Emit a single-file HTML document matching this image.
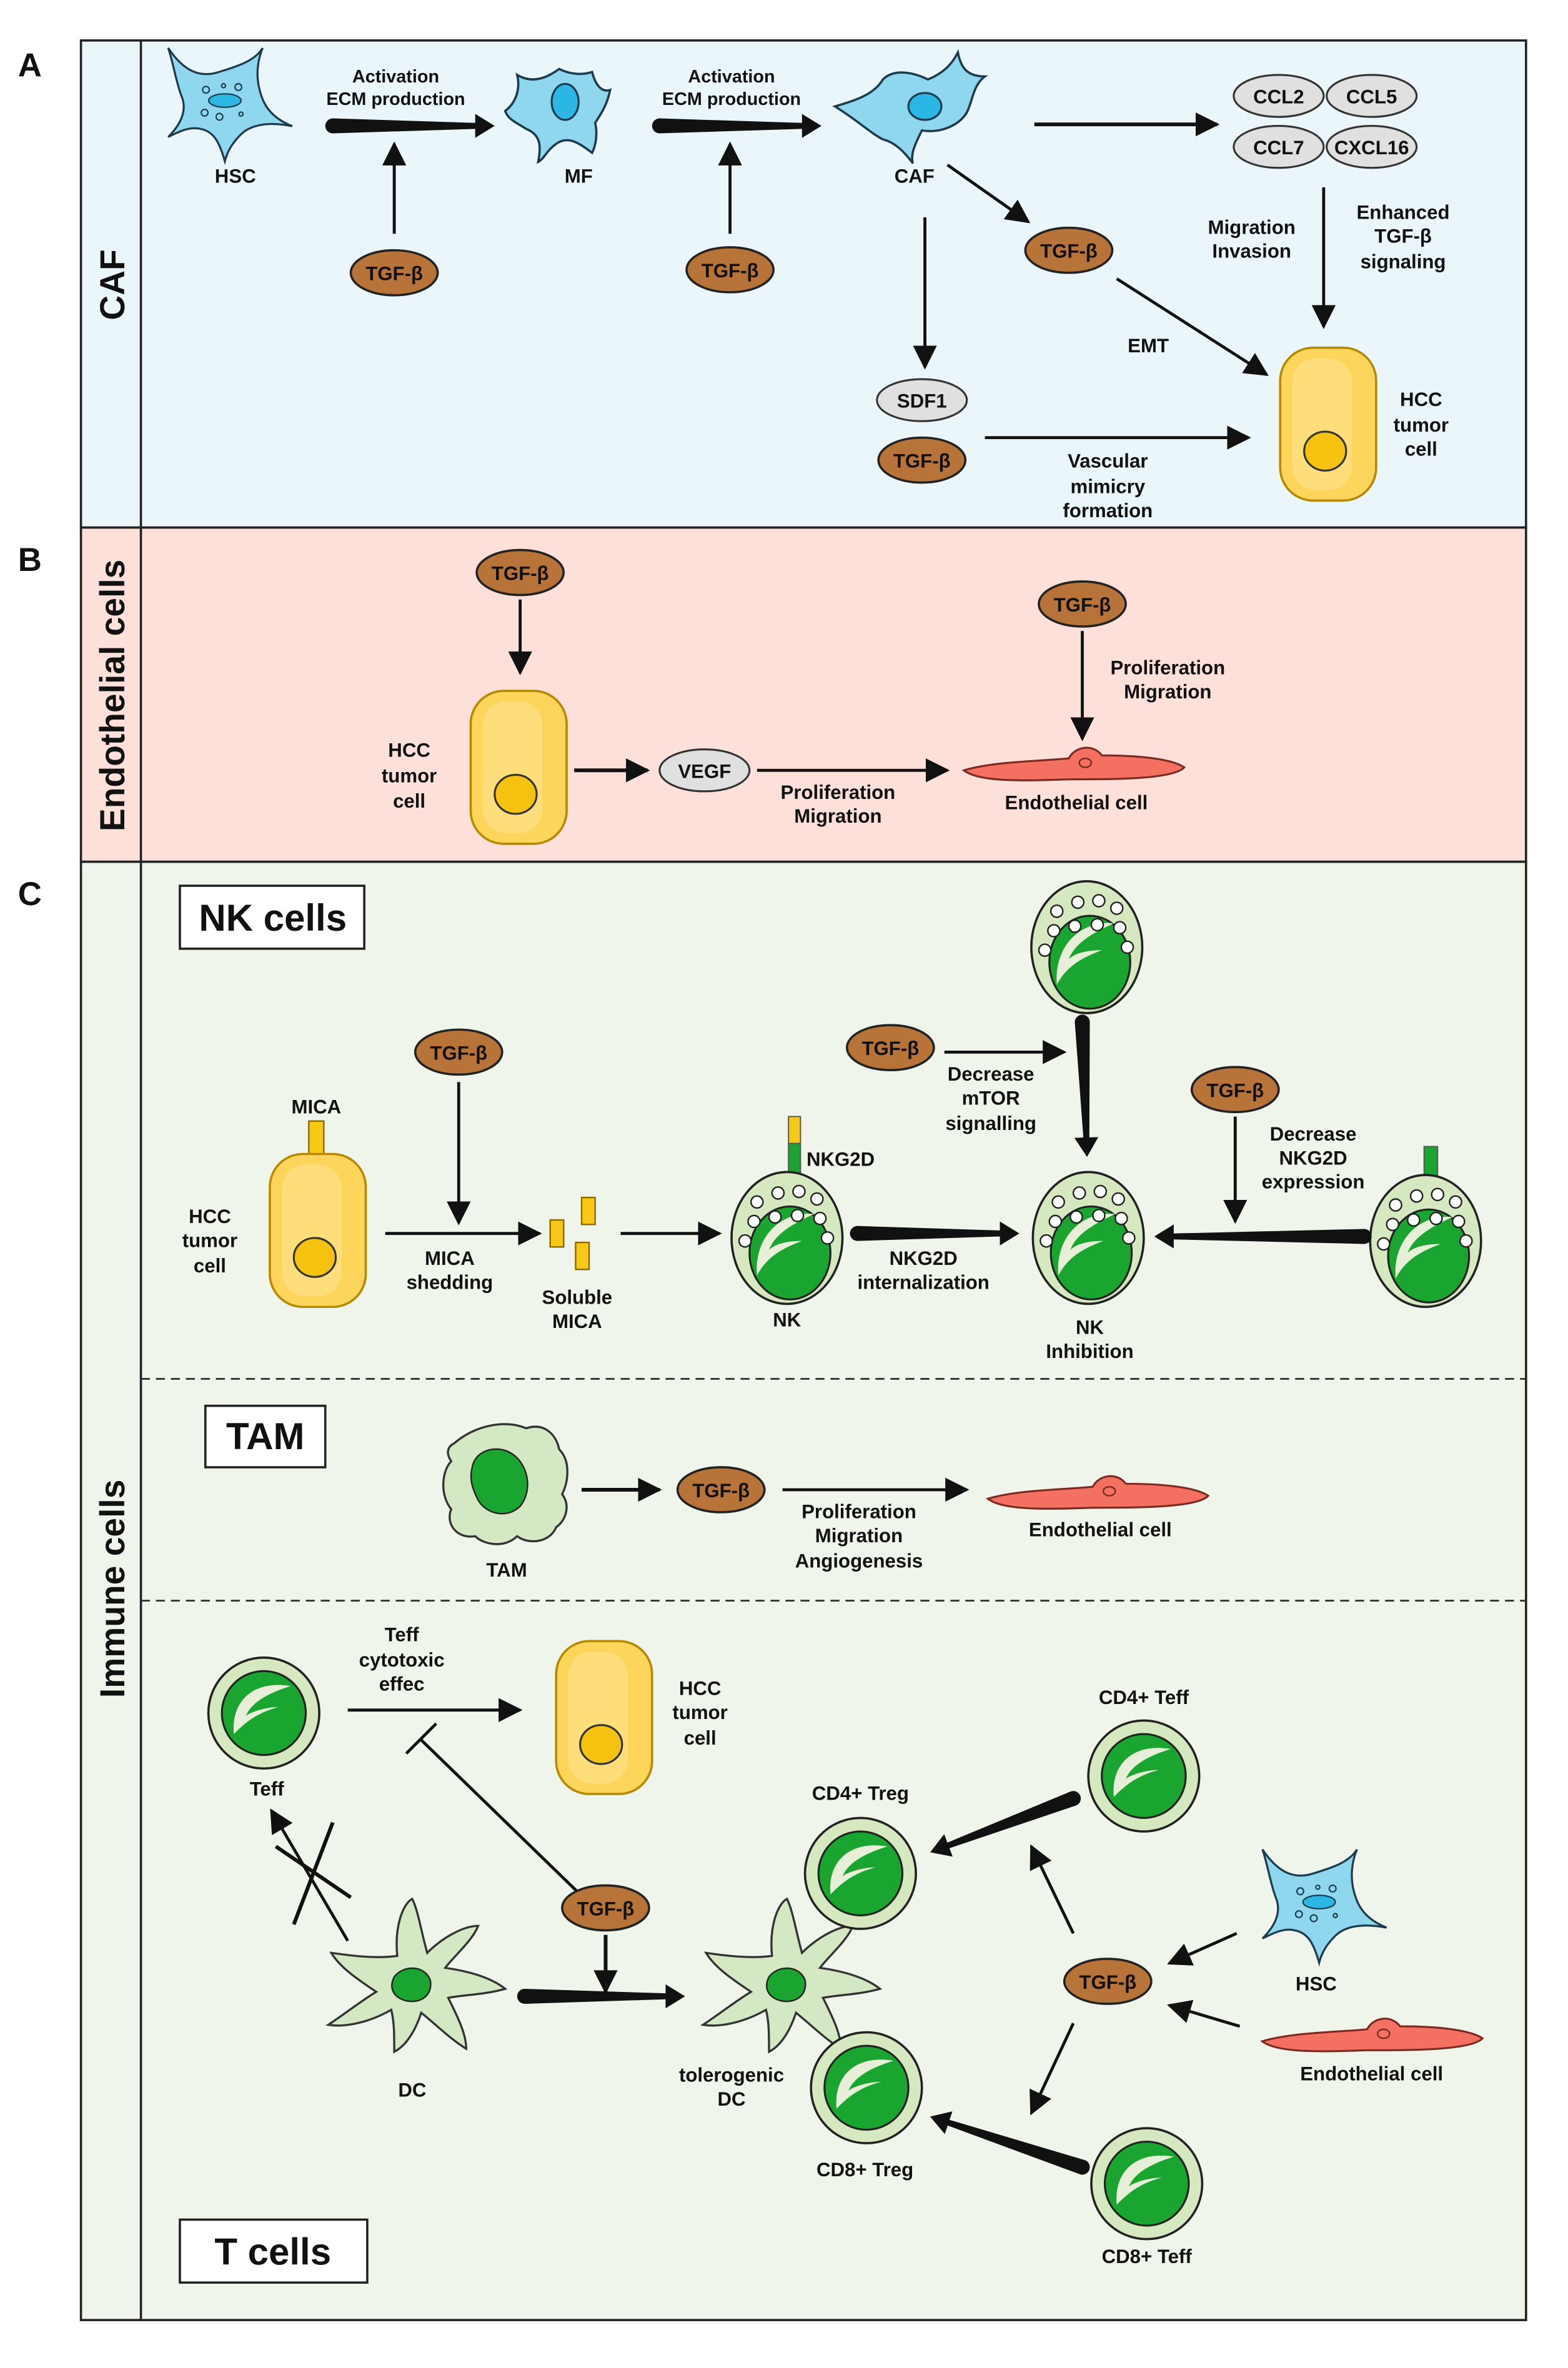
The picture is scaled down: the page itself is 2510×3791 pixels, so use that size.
<!DOCTYPE html>
<html><head><meta charset="utf-8"><style>
html,body{margin:0;padding:0;background:#fff}
svg{display:block}
text{font-family:"Liberation Sans",Arial,sans-serif;font-weight:bold;fill:#111}
</style></head><body>
<svg width="2510" height="3791" viewBox="0 0 1046 1580" preserveAspectRatio="none" xmlns="http://www.w3.org/2000/svg">
<defs>
<marker id="a" viewBox="0 0 10 10" refX="9" refY="5" markerWidth="16" markerHeight="16" markerUnits="userSpaceOnUse" orient="auto"><path d="M0,0 L10,5 L0,10 Z" fill="#111"/></marker>
<g id="tgf"><ellipse rx="29" ry="15" fill="#b87438" stroke="#222" stroke-width="1.5"/><text y="5" text-anchor="middle" font-size="13">TGF-β</text></g>
<g id="hcc"><rect x="-32" y="-51" width="64" height="102" rx="22" fill="#fdd55b" stroke="#b58a00" stroke-width="1.5"/><rect x="-24" y="-44" width="40" height="88" rx="16" fill="#fee188" opacity=".7"/><ellipse cx="-2" cy="18" rx="14" ry="13" fill="#f5c30f" stroke="#333" stroke-width="1.3"/></g>
<g id="lym"><circle r="37" fill="#d5e8c0" stroke="#222" stroke-width="1.5"/><circle r="28" fill="#1aa531" stroke="#222" stroke-width="1.3"/><path d="M-20,14 C-22,-10 -5,-22 18,-18 C5,-14 -8,-8 -12,2 C-10,0 0,-4 10,-4 C-6,0 -14,8 -20,14Z" fill="#e7efd8"/></g>
<g id="nk"><ellipse rx="37" ry="44" fill="#d5e8c0" stroke="#222" stroke-width="1.5"/><ellipse cx="2" cy="10" rx="27" ry="31" fill="#1aa531" stroke="#222" stroke-width="1.3"/><path d="M-20,25 C-22,0 -5,-18 18,-16 C5,-10 -8,-3 -12,8 C-8,4 0,2 10,2 C-6,8 -14,14 -20,25Z" fill="#e7efd8"/>
<g fill="#fff" stroke="#222" stroke-width="1"><circle cx="-20" cy="-24" r="4"/><circle cx="-6" cy="-30" r="4"/><circle cx="8" cy="-31" r="4"/><circle cx="20" cy="-26" r="4"/><circle cx="-22" cy="-11" r="4"/><circle cx="-8" cy="-14" r="4"/><circle cx="7" cy="-15" r="4"/><circle cx="22" cy="-13" r="4"/><circle cx="-28" cy="2" r="4"/><circle cx="27" cy="0" r="4"/></g></g>
<g id="hsc"><path d="M-42,-40 C-30,-22 -18,-18 -5,-22 C8,-26 22,-30 28,-40 C22,-25 24,-12 28,-2 C32,8 40,14 50,18 C30,14 18,18 12,24 C6,30 2,36 0,44 C-4,30 -8,22 -18,20 C-26,18 -34,22 -42,26 C-32,16 -28,6 -32,-4 C-36,-14 -38,-28 -42,-40Z" fill="#8fd6ef" stroke="#1d3b4b" stroke-width="1.5"/><ellipse cx="0" cy="-1" rx="12" ry="5" fill="#2cb6e4" stroke="#1d3b4b"/><g fill="none" stroke="#1d3b4b"><circle cx="-14" cy="-9" r="2.5"/><circle cx="-1" cy="-12" r="1.5"/><circle cx="10" cy="-11" r="2.5"/><circle cx="-15" cy="8" r="2.5"/><circle cx="-4" cy="11" r="2.5"/><circle cx="12" cy="9" r="1.5"/></g></g>
<g id="endo"><path d="M0,8 C20,2 50,2 70,0 C74,-8 86,-10 92,-2 C115,-2 138,0 147,6 C140,14 100,14 70,14 C40,15 10,16 0,8Z" fill="#f47162" stroke="#7a2a20" stroke-width="1.3"/><ellipse cx="81" cy="3" rx="4" ry="3" fill="none" stroke="#7a2a20"/></g>
<g id="dc"><path d="M-10,-20 C-12,-40 -6,-55 0,-58 C4,-50 6,-36 10,-22 C20,-32 34,-40 44,-40 C40,-30 28,-20 22,-12 C36,-10 52,-6 62,2 C48,6 34,6 24,8 C30,20 36,32 36,42 C26,36 16,26 6,18 C2,30 -4,40 -12,44 C-12,32 -12,24 -14,16 C-28,24 -44,28 -56,26 C-44,18 -34,10 -24,4 C-36,-4 -48,-12 -54,-22 C-40,-20 -24,-18 -10,-20Z" fill="#d3e8c3" stroke="#333" stroke-width="1.4"/><path d="M-12,-6 C-6,-14 8,-14 12,-4 C14,6 6,12 -4,10 C-12,8 -16,2 -12,-6Z" fill="#1aa531" stroke="#222"/></g>
</defs>

<rect x="54" y="27" width="964" height="325" fill="#ebf6fb" stroke="#222" stroke-width="1.5"/>
<rect x="54" y="352" width="964" height="223" fill="#fde0da" stroke="#222" stroke-width="1.5"/>
<rect x="54" y="575" width="964" height="973" fill="#f0f5ec" stroke="#222" stroke-width="1.5"/>
<line x1="94" y1="27" x2="94" y2="1548" stroke="#222" stroke-width="1.5"/>
<line x1="94" y1="920" x2="1018" y2="920" stroke="#333" stroke-width="1.2" stroke-dasharray="6,4"/>
<line x1="94" y1="1068" x2="1018" y2="1068" stroke="#333" stroke-width="1.2" stroke-dasharray="6,4"/>
<text x="12" y="51" font-size="22">A</text>
<text x="12" y="381" font-size="22">B</text>
<text x="12" y="604" font-size="22">C</text>
<text transform="translate(83,190) rotate(-90)" text-anchor="middle" font-size="23">CAF</text>
<text transform="translate(83,464) rotate(-90)" text-anchor="middle" font-size="23">Endothelial cells</text>
<text transform="translate(83,1060) rotate(-90)" text-anchor="middle" font-size="23">Immune cells</text>

<g transform="translate(150,68) scale(0.9)"><use href="#hsc"/></g>
<text x="157" y="122" text-anchor="middle" font-size="13">HSC</text>
<g transform="translate(222,84)"><path d="M0,-5 L95,-2 L95,-8 L108,0 L95,8 L95,2 L0,5 Z" fill="#111"/><circle r="5" fill="#111"/></g>
<text x="264" y="55" text-anchor="middle" font-size="12">Activation</text>
<text x="264" y="70" text-anchor="middle" font-size="12">ECM production</text>
<line x1="263" y1="156" x2="263" y2="96" stroke="#111" stroke-width="2" marker-end="url(#a)"/>
<use href="#tgf" x="263" y="182"/>
<g transform="translate(375,72)"><path d="M-38,2 C-30,-4 -28,-14 -30,-22 C-20,-16 -10,-20 -2,-26 C6,-22 14,-22 20,-24 C22,-16 26,-10 32,-12 C30,-2 26,4 22,10 C24,18 22,26 20,30 C12,24 4,18 -4,24 C-10,28 -12,34 -16,36 C-14,26 -14,18 -24,14 C-30,10 -36,8 -38,2Z" fill="#8fd6ef" stroke="#1d3b4b" stroke-width="1.5"/><ellipse cx="2" cy="-4" rx="9" ry="12" fill="#2cb6e4" stroke="#1d3b4b" stroke-width="1.3"/></g>
<text x="386" y="122" text-anchor="middle" font-size="13">MF</text>
<g transform="translate(440,84)"><path d="M0,-5 L95,-2 L95,-8 L108,0 L95,8 L95,2 L0,5 Z" fill="#111"/><circle r="5" fill="#111"/></g>
<text x="488" y="55" text-anchor="middle" font-size="12">Activation</text>
<text x="488" y="70" text-anchor="middle" font-size="12">ECM production</text>
<line x1="487" y1="156" x2="487" y2="96" stroke="#111" stroke-width="2" marker-end="url(#a)"/>
<use href="#tgf" x="487" y="180"/>
<g transform="translate(615,75)"><path d="M-58,-4 C-44,-8 -32,-12 -26,-22 C-18,-30 -4,-26 4,-22 C14,-26 20,-32 24,-40 C26,-30 30,-24 42,-24 C34,-18 34,-8 30,0 C24,10 10,14 0,12 C-4,20 -8,28 -6,34 C-12,26 -18,20 -26,18 C-34,14 -42,6 -58,-4Z" fill="#8fd6ef" stroke="#1d3b4b" stroke-width="1.5"/><ellipse cx="2" cy="-4" rx="11" ry="9" fill="#2cb6e4" stroke="#1d3b4b" stroke-width="1.3"/></g>
<text x="610" y="122" text-anchor="middle" font-size="13">CAF</text>
<line x1="690" y1="83" x2="812" y2="83" stroke="#111" stroke-width="2.5" marker-end="url(#a)"/>
<g font-size="13" text-anchor="middle">
<ellipse cx="853" cy="64" rx="30" ry="14" fill="#e0e0e0" stroke="#333" stroke-width="1.3"/><text x="853" y="69">CCL2</text>
<ellipse cx="915" cy="64" rx="30" ry="14" fill="#e0e0e0" stroke="#333" stroke-width="1.3"/><text x="915" y="69">CCL5</text>
<ellipse cx="853" cy="98" rx="30" ry="14" fill="#e0e0e0" stroke="#333" stroke-width="1.3"/><text x="853" y="103">CCL7</text>
<ellipse cx="915" cy="98" rx="30" ry="14" fill="#e0e0e0" stroke="#333" stroke-width="1.3"/><text x="915" y="103">CXCL16</text>
</g>
<line x1="883" y1="125" x2="883" y2="218" stroke="#111" stroke-width="2" marker-end="url(#a)"/>
<g font-size="13" text-anchor="middle">
<text x="835" y="156">Migration</text><text x="835" y="172">Invasion</text>
<text x="936" y="146">Enhanced</text><text x="936" y="162">TGF-β</text><text x="936" y="179">signaling</text>
<text x="766" y="235">EMT</text>
<text x="739" y="312">Vascular</text><text x="739" y="329">mimicry</text><text x="739" y="345">formation</text>
<text x="948" y="271">HCC</text><text x="948" y="288">tumor</text><text x="948" y="304">cell</text>
</g>
<line x1="632" y1="110" x2="686" y2="148" stroke="#111" stroke-width="2" marker-end="url(#a)"/>
<use href="#tgf" x="713" y="167"/>
<line x1="745" y1="186" x2="845" y2="250" stroke="#111" stroke-width="2" marker-end="url(#a)"/>
<line x1="617" y1="145" x2="617" y2="245" stroke="#111" stroke-width="2" marker-end="url(#a)"/>
<ellipse cx="615" cy="267" rx="30" ry="14" fill="#e0e0e0" stroke="#333" stroke-width="1.3"/><text x="615" y="272" text-anchor="middle" font-size="13">SDF1</text>
<use href="#tgf" x="615" y="307"/>
<line x1="657" y1="292" x2="833" y2="292" stroke="#111" stroke-width="2" marker-end="url(#a)"/>
<use href="#hcc" x="886" y="283"/>

<use href="#tgf" x="347" y="382"/>
<line x1="347" y1="400" x2="347" y2="449" stroke="#111" stroke-width="2" marker-end="url(#a)"/>
<use href="#hcc" x="346" y="512"/>
<g font-size="13" text-anchor="middle">
<text x="273" y="505">HCC</text><text x="273" y="522">tumor</text><text x="273" y="539">cell</text>
<text x="559" y="533">Proliferation</text><text x="559" y="549">Migration</text>
<text x="779" y="450">Proliferation</text><text x="779" y="466">Migration</text>
<text x="718" y="540">Endothelial cell</text>
</g>
<line x1="383" y1="514" x2="432" y2="514" stroke="#111" stroke-width="2.5" marker-end="url(#a)"/>
<ellipse cx="470" cy="514" rx="30" ry="14" fill="#e0e0e0" stroke="#333" stroke-width="1.3"/><text x="470" y="519" text-anchor="middle" font-size="13">VEGF</text>
<line x1="505" y1="514" x2="632" y2="514" stroke="#111" stroke-width="2" marker-end="url(#a)"/>
<use href="#tgf" x="722" y="403"/>
<line x1="722" y1="421" x2="722" y2="493" stroke="#111" stroke-width="2" marker-end="url(#a)"/>
<use href="#endo" x="643" y="506"/>

<rect x="120" y="591" width="123" height="42" fill="#fff" stroke="#222" stroke-width="1.5"/>
<text x="182" y="621" text-anchor="middle" font-size="25">NK cells</text>
<rect x="206" y="748" width="10" height="22" fill="#f7c815" stroke="#8a6a00"/>
<text x="211" y="743" text-anchor="middle" font-size="13">MICA</text>
<use href="#hcc" x="212" y="821"/>
<g font-size="13" text-anchor="middle">
<text x="140" y="816">HCC</text><text x="140" y="832">tumor</text><text x="140" y="849">cell</text>
<text x="300" y="844">MICA</text><text x="300" y="860">shedding</text>
<text x="385" y="870">Soluble</text><text x="385" y="886">MICA</text>
<text x="525" y="885">NK</text>
<text x="616" y="844">NKG2D</text><text x="616" y="860">internalization</text>
<text x="727" y="890">NK</text><text x="727" y="906">Inhibition</text>
<text x="661" y="721">Decrease</text><text x="661" y="737">mTOR</text><text x="661" y="754">signalling</text>
<text x="876" y="761">Decrease</text><text x="876" y="777">NKG2D</text><text x="876" y="793">expression</text>
</g>
<use href="#tgf" x="306" y="702"/>
<line x1="306" y1="722" x2="306" y2="816" stroke="#111" stroke-width="2" marker-end="url(#a)"/>
<line x1="257" y1="823" x2="360" y2="823" stroke="#111" stroke-width="2" marker-end="url(#a)"/>
<rect x="367" y="814" width="9" height="18" fill="#f7c815" stroke="#8a6a00"/>
<rect x="388" y="799" width="9" height="18" fill="#f7c815" stroke="#8a6a00"/>
<rect x="384" y="829" width="9" height="18" fill="#f7c815" stroke="#8a6a00"/>
<line x1="414" y1="823" x2="480" y2="823" stroke="#111" stroke-width="2" marker-end="url(#a)"/>
<rect x="526" y="745" width="8" height="18" fill="#f7c815" stroke="#555" stroke-width=".8"/>
<rect x="526" y="763" width="8" height="20" fill="#1aa531" stroke="#555" stroke-width=".8"/>
<text x="538" y="778" font-size="13">NKG2D</text>
<use href="#nk" x="525" y="826"/>
<g transform="translate(572,823)"><path d="M0,-5 L95,-2 L95,-8 L108,0 L95,8 L95,2 L0,5 Z" fill="#111"/><circle r="5" fill="#111"/></g>
<use href="#nk" x="726" y="826"/>
<use href="#nk" x="725" y="632"/>
<g transform="translate(722,682) rotate(88)"><path d="M0,-5 L77,-2 L77,-8 L90,0 L77,8 L77,2 L0,5 Z" fill="#111"/><circle r="5" fill="#111"/></g>
<use href="#tgf" x="594" y="699"/>
<line x1="630" y1="702" x2="710" y2="702" stroke="#111" stroke-width="2" marker-end="url(#a)"/>
<use href="#tgf" x="824" y="727"/>
<line x1="824" y1="745" x2="824" y2="815" stroke="#111" stroke-width="2" marker-end="url(#a)"/>
<rect x="950" y="765" width="9" height="20" fill="#1aa531" stroke="#555" stroke-width=".8"/>
<use href="#nk" x="951" y="828"/>
<g transform="translate(910,825) rotate(180)"><path d="M0,-5 L127,-2 L127,-8 L140,0 L127,8 L127,2 L0,5 Z" fill="#111"/><circle r="5" fill="#111"/></g>

<rect x="137" y="938" width="80" height="41" fill="#fff" stroke="#222" stroke-width="1.5"/>
<text x="177" y="967" text-anchor="middle" font-size="25">TAM</text>
<g transform="translate(337,993)"><path d="M-34,-30 C-20,-42 0,-46 14,-40 C26,-44 34,-36 36,-26 C44,-18 42,-4 38,4 C44,12 40,22 34,26 C30,36 16,38 8,32 C0,40 -14,38 -20,32 C-32,34 -40,24 -36,14 C-44,4 -42,-12 -36,-18 C-40,-24 -38,-28 -34,-30Z" fill="#d3e8c3" stroke="#333" stroke-width="1.4"/><path d="M-22,-14 C-20,-26 -4,-30 6,-22 C16,-14 18,2 10,12 C2,20 -12,18 -18,8 C-22,0 -24,-6 -22,-14Z" fill="#1aa531" stroke="#222"/></g>
<text x="338" y="1052" text-anchor="middle" font-size="13">TAM</text>
<line x1="388" y1="994" x2="440" y2="994" stroke="#111" stroke-width="2.5" marker-end="url(#a)"/>
<use href="#tgf" x="481" y="994"/>
<line x1="522" y1="994" x2="645" y2="994" stroke="#111" stroke-width="2" marker-end="url(#a)"/>
<g font-size="13" text-anchor="middle">
<text x="573" y="1013">Proliferation</text><text x="573" y="1029">Migration</text><text x="573" y="1046">Angiogenesis</text>
<text x="734" y="1025">Endothelial cell</text>
</g>
<use href="#endo" x="659" y="992"/>

<rect x="120" y="1481" width="125" height="42" fill="#fff" stroke="#222" stroke-width="1.5"/>
<text x="182" y="1511" text-anchor="middle" font-size="25">T cells</text>
<use href="#lym" x="176" y="1143"/>
<text x="178" y="1198" text-anchor="middle" font-size="13">Teff</text>
<line x1="232" y1="1141" x2="347" y2="1141" stroke="#111" stroke-width="2" marker-end="url(#a)"/>
<g font-size="13" text-anchor="middle">
<text x="268" y="1095">Teff</text><text x="268" y="1112">cytotoxic</text><text x="268" y="1128">effec</text>
<text x="467" y="1131">HCC</text><text x="467" y="1147">tumor</text><text x="467" y="1164">cell</text>
<text x="275" y="1399">DC</text>
<text x="488" y="1389">tolerogenic</text><text x="488" y="1405">DC</text>
<text x="574" y="1201">CD4+ Treg</text>
<text x="577" y="1452">CD8+ Treg</text>
<text x="763" y="1137">CD4+ Teff</text>
<text x="765" y="1510">CD8+ Teff</text>
<text x="878" y="1328">HSC</text>
<text x="915" y="1388">Endothelial cell</text>
</g>
<use href="#hcc" x="403" y="1146"/>
<line x1="385" y1="1262" x2="280" y2="1160" stroke="#111" stroke-width="2"/>
<line x1="271" y1="1170" x2="291" y2="1150" stroke="#111" stroke-width="2"/>
<use href="#dc" x="275" y="1325"/>
<line x1="232" y1="1295" x2="181" y2="1208" stroke="#111" stroke-width="2" marker-end="url(#a)"/>
<line x1="184" y1="1232" x2="234" y2="1266" stroke="#111" stroke-width="2.5"/>
<line x1="196" y1="1284" x2="222" y2="1216" stroke="#111" stroke-width="2.5"/>
<use href="#tgf" x="404" y="1273"/>
<line x1="404" y1="1291" x2="404" y2="1329" stroke="#111" stroke-width="2.5" marker-end="url(#a)"/>
<g transform="translate(350,1332)"><path d="M0,-5 L94,-2 L94,-8 L107,0 L94,8 L94,2 L0,5 Z" fill="#111"/><circle r="5" fill="#111"/></g>
<use href="#dc" x="525" y="1325"/>
<use href="#lym" x="574" y="1250"/>
<use href="#lym" x="578" y="1393"/>
<use href="#lym" x="763" y="1185"/>
<use href="#lym" x="765" y="1457"/>
<g transform="translate(716,1200) rotate(159.4)"><path d="M0,-5 L89,-2 L89,-8 L102,0 L89,8 L89,2 L0,5 Z" fill="#111"/><circle r="5" fill="#111"/></g>
<g transform="translate(722,1446) rotate(198.4)"><path d="M0,-5 L94,-2 L94,-8 L107,0 L94,8 L94,2 L0,5 Z" fill="#111"/><circle r="5" fill="#111"/></g>
<use href="#tgf" x="739" y="1322"/>
<line x1="716" y1="1290" x2="688" y2="1232" stroke="#111" stroke-width="2" marker-end="url(#a)"/>
<line x1="716" y1="1350" x2="688" y2="1410" stroke="#111" stroke-width="2" marker-end="url(#a)"/>
<g transform="translate(880,1270) scale(0.9)"><use href="#hsc"/></g>
<line x1="825" y1="1290" x2="780" y2="1310" stroke="#111" stroke-width="2" marker-end="url(#a)"/>
<use href="#endo" x="842" y="1354"/>
<line x1="827" y1="1352" x2="780" y2="1338" stroke="#111" stroke-width="2" marker-end="url(#a)"/>
</svg>
</body></html>
